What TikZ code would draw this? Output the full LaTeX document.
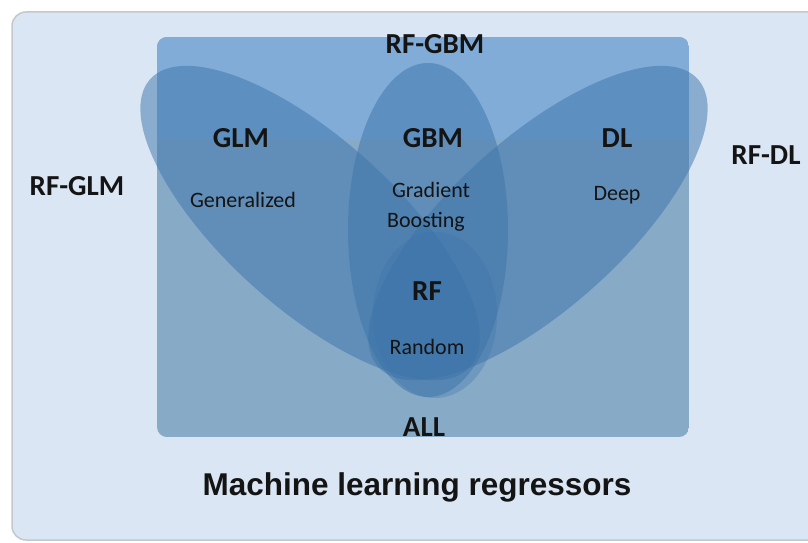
\documentclass[tikz,border=0pt]{standalone}
\usepackage{fontspec}
\newfontfamily\carlito{Carlito}
\newfontfamily\arialike{Liberation Sans}
\definecolor{pagebg}{HTML}{DAE6F3}
\definecolor{boxedge}{HTML}{C4C8CC}
\definecolor{alltop}{HTML}{80ACD7}
\definecolor{allbottom}{HTML}{87AAC7}
\definecolor{setfill}{HTML}{3C73AA}
\definecolor{ink}{HTML}{141414}
\tikzset{
  setshape/.style={fill=setfill, fill opacity=0.5},
  innershape/.style={fill=setfill, fill opacity=0.32},
  setlabel/.style={font=\carlito\bfseries\fontsize{29}{30}\selectfont, text=ink, inner sep=0pt, anchor=base},
  setnote/.style={font=\carlito\fontsize{22}{24}\selectfont, text=ink, inner sep=0pt, anchor=base},
  titlelabel/.style={font=\arialike\bfseries\fontsize{31.5}{33}\selectfont, text=ink, inner sep=0pt, anchor=base},
}
\begin{document}
\begin{tikzpicture}[x=1pt,y=-1pt]
\useasboundingbox (0,0) rectangle (808,543);
\fill[white] (0,0) rectangle (808,543);

% outer panel, running past the right edge
\begin{scope}
  \clip (0,0) rectangle (808,543);
  \draw[boxedge, line width=1.5pt, fill=pagebg, rounded corners=14pt] (12,12) rectangle (840,540);
\end{scope}

% the ALL set: brighter band on top, greyer body below
\begin{scope}
  \clip[rounded corners=10pt] (157,37) rectangle (689,437);
  \fill[allbottom] (157,37) rectangle (689,437);
  \fill[alltop] (157,37) rectangle (689,139);
\end{scope}

% the four model sets
\fill[setshape, rotate around={-42:(310,223)}] (310,223) ellipse [x radius=215, y radius=85];
\fill[setshape, rotate around={42:(538,223)}] (538,223) ellipse [x radius=215, y radius=85];
\fill[setshape] (428,230) ellipse [x radius=80, y radius=167];
\fill[innershape] (435,315) ellipse [x radius=62, y radius=83];

% set names
\node[setlabel] (rfgbm) at (435,53) {RF-GBM};
\node[setlabel] (glm) at (241,147) {GLM};
\node[setlabel] (gbm) at (433,147) {GBM};
\node[setlabel] (dl) at (617,147) {DL};
\node[setlabel] (rfglm) at (77,195) {RF-GLM};
\node[setlabel] (rfdl) at (766,164) {RF-DL};
\node[setlabel] (rf) at (427,300) {RF};
\node[setlabel] (all) at (424,436) {ALL};

% descriptions
\node[setnote] (glmnote) at (243,207) {Generalized};
\node[setnote] (gbmnote1) at (431,197) {Gradient};
\node[setnote] (gbmnote2) at (426,227) {Boosting};
\node[setnote] (dlnote) at (617,200) {Deep};
\node[setnote] (rfnote) at (427,354) {Random};

\node[titlelabel] (title) at (417,495) {Machine learning regressors};
\end{tikzpicture}
\end{document}
